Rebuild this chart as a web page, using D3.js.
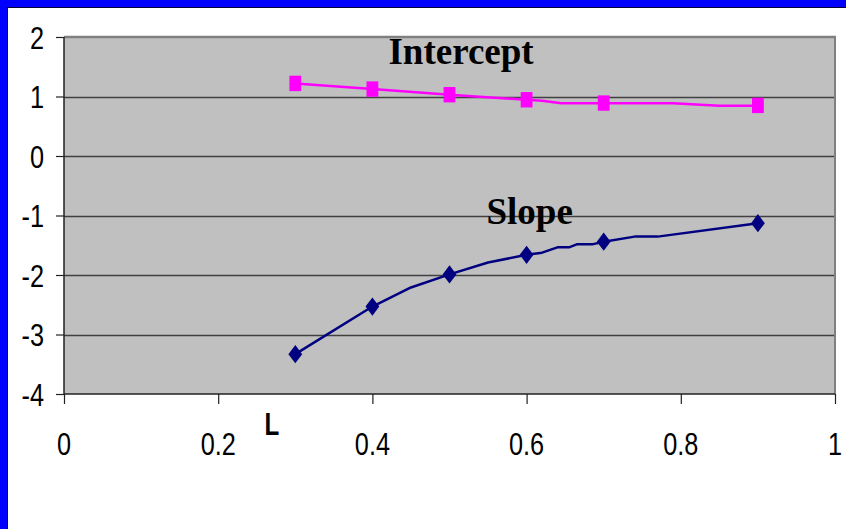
<!DOCTYPE html>
<html>
<head>
<meta charset="utf-8">
<script src="https://cdn.jsdelivr.net/npm/d3@7"></script>
<style>
  html, body { margin: 0; padding: 0; background: #ffffff; }
  svg { display: block; }
</style>
</head>
<body>
<svg id="chart" width="846" height="529"></svg>
<script>
// Fitted coefficients versus L
const interceptLineX = [0.3, 0.4, 0.5, 0.6, 0.62, 0.645, 0.7, 0.79, 0.85, 0.9];
const interceptLineY = [1.22, 1.125, 1.03, 0.945, 0.93, 0.885, 0.885, 0.885, 0.845, 0.845];
const slopeLineX = [0.3, 0.4, 0.45, 0.5, 0.55, 0.6, 0.62, 0.64, 0.655, 0.665, 0.685, 0.7, 0.74, 0.77, 0.9];
const slopeLineY = [-3.33, -2.53, -2.21, -1.99, -1.79, -1.66, -1.625, -1.535, -1.535, -1.485, -1.485, -1.44, -1.355, -1.355, -1.13];

// Marked sample points
const markerX = [0.3, 0.4, 0.5, 0.6, 0.7, 0.9];
const interceptMarks = [1.22, 1.125, 1.03, 0.945, 0.89, 0.85];
const slopeMarks = [-3.33, -2.53, -1.99, -1.66, -1.44, -1.13];

// Axes
const xTicks = [0, 0.2, 0.4, 0.6, 0.8, 1];
const yTicks = [-4, -3, -2, -1, 0, 1, 2];
const axisTitle = "L";

// Series labels, placed in data units
const seriesLabels = [
  { text: "Intercept", x: 0.515, y: 1.55 },
  { text: "Slope", x: 0.604, y: -1.14 }
];

const svg = d3.select("#chart");
const W = 846, H = 529;

const x = d3.scaleLinear().domain([0, 1]).range([64, 835]);
const y = d3.scaleLinear().domain([-4, 2]).range([394, 37]);

// Slide frame: blue band on top and left edges
svg.append("rect").attr("x", 0).attr("y", 0).attr("width", W).attr("height", 7).attr("fill", "#0000ff");
svg.append("rect").attr("x", 0).attr("y", 0).attr("width", 7).attr("height", H).attr("fill", "#0000ff");
svg.append("line").attr("x1", 7).attr("x2", W).attr("y1", 7.5).attr("y2", 7.5).attr("stroke", "#000033").attr("stroke-width", 1);
svg.append("line").attr("x1", 7.5).attr("x2", 7.5).attr("y1", 7).attr("y2", H).attr("stroke", "#000033").attr("stroke-width", 1);

// Plot area
const [x0, x1] = x.range();
const [yb, yt] = y.range();
svg.append("rect")
  .attr("x", x0).attr("y", yt)
  .attr("width", x1 - x0).attr("height", yb - yt)
  .attr("fill", "#c0c0c0");

// Horizontal gridlines
svg.append("g").selectAll("line")
  .data(yTicks.filter(v => v > -4 && v < 2))
  .join("line")
  .attr("x1", x0).attr("x2", x1)
  .attr("y1", d => Math.round(y(d)) + 0.5).attr("y2", d => Math.round(y(d)) + 0.5)
  .attr("stroke", "#404040").attr("stroke-width", 1.3);

// Plot border (top and right)
svg.append("line").attr("x1", x0).attr("x2", x1 + 1).attr("y1", yt).attr("y2", yt)
  .attr("stroke", "#808080").attr("stroke-width", 2.5);
svg.append("line").attr("x1", x1).attr("x2", x1).attr("y1", yt).attr("y2", yb)
  .attr("stroke", "#808080").attr("stroke-width", 2);

// Axes
const yAxis = d3.axisLeft(y).tickValues(yTicks).tickSize(8).tickFormat("");
const xAxis = d3.axisBottom(x).tickValues(xTicks).tickSize(10).tickFormat("");
const gy = svg.append("g").attr("transform", `translate(${x0},0)`).call(yAxis);
const gx = svg.append("g").attr("transform", `translate(0,${yb})`).call(xAxis);
[gy, gx].forEach(g => {
  g.select(".domain").attr("stroke", "#222").attr("stroke-width", 1.5);
  g.selectAll(".tick line").attr("stroke", "#222").attr("stroke-width", 1.2);
});
gy.select(".domain").attr("d", `M0,${yt}V${yb}`);
gx.select(".domain").attr("d", `M${x0},0H${x1}`);

// Tick labels (narrow sans, plain hyphen for negatives)
const tickFont = "'Liberation Sans', Arial, sans-serif";
const fmt = d => String(d);
svg.append("g").selectAll("text")
  .data(yTicks)
  .join("text")
  .attr("transform", d => `translate(44,${y(d) + 11.5}) scale(0.79,1)`)
  .attr("text-anchor", "end")
  .attr("font-family", tickFont)
  .attr("font-size", 32)
  .attr("fill", "#000")
  .text(fmt);

svg.append("g").selectAll("text")
  .data(xTicks)
  .join("text")
  .attr("transform", d => `translate(${x(d)},455) scale(0.79,1)`)
  .attr("text-anchor", "middle")
  .attr("font-family", tickFont)
  .attr("font-size", 32)
  .attr("fill", "#000")
  .text(fmt);

// Axis title
svg.append("text")
  .attr("transform", `translate(272,435) scale(0.78,1)`)
  .attr("text-anchor", "middle")
  .attr("font-family", tickFont)
  .attr("font-weight", "bold")
  .attr("font-size", 31)
  .attr("fill", "#000")
  .text(axisTitle);

// Series lines
const line = d3.line().x(d => x(d[0])).y(d => y(d[1]));
svg.append("path")
  .datum(d3.zip(interceptLineX, interceptLineY))
  .attr("d", line)
  .attr("fill", "none").attr("stroke", "#ff00ff").attr("stroke-width", 2.5)
  .attr("stroke-linejoin", "round");
svg.append("path")
  .datum(d3.zip(slopeLineX, slopeLineY))
  .attr("d", line)
  .attr("fill", "none").attr("stroke", "#000080").attr("stroke-width", 2.5)
  .attr("stroke-linejoin", "round");

// Markers
const square = d3.symbol(d3.symbolSquare, 140)();
svg.append("g").selectAll("path")
  .data(d3.zip(markerX, interceptMarks))
  .join("path")
  .attr("d", square)
  .attr("transform", d => `translate(${x(d[0])},${y(d[1])}) scale(1,1.3)`)
  .attr("fill", "#ff00ff");

const diamond = d3.symbol(d3.symbolDiamond2, 122)();
svg.append("g").selectAll("path")
  .data(d3.zip(markerX, slopeMarks))
  .join("path")
  .attr("d", diamond)
  .attr("transform", d => `translate(${x(d[0])},${y(d[1])}) scale(1,1.32)`)
  .attr("fill", "#000080");

// Series labels
svg.append("g").selectAll("text")
  .data(seriesLabels)
  .join("text")
  .attr("x", d => x(d.x))
  .attr("y", d => y(d.y))
  .attr("text-anchor", "middle")
  .attr("font-family", "'Liberation Serif', 'Times New Roman', serif")
  .attr("font-weight", "bold")
  .attr("font-size", 37)
  .attr("fill", "#000")
  .text(d => d.text);
</script>
</body>
</html>
